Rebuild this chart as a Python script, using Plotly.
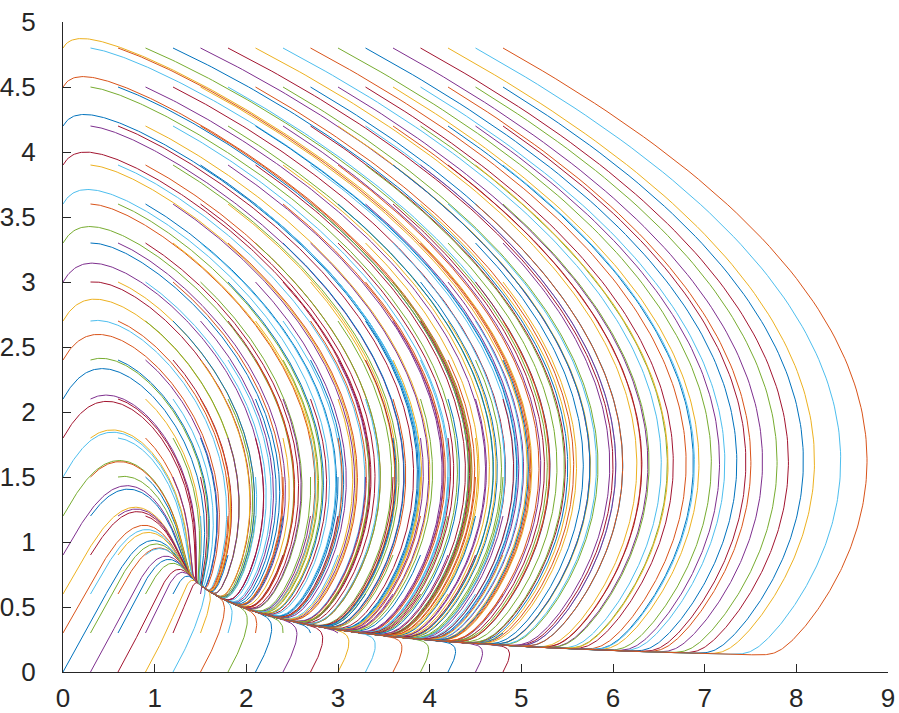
import numpy as np
import plotly.graph_objects as go

x_starts = [round(0.3 * i, 1) for i in range(17)]   # 0, 0.3, ..., 4.8
y_starts = [round(0.3 * j, 1) for j in range(17)]   # 0, 0.3, ..., 4.8

# Model parameters (eq ~ (1.52, 0.66), slow manifold y ~ 1/x)
a_par = 1.04
b_par = 1.3
d_par = 1.7
t_end = 40.0
dt = 0.002

colors = ['#0072BD', '#D95319', '#EDB120', '#7E2F8E', '#77AC30', '#4DBEEE', '#A2142F']

x_ticks = list(range(0, 10))
y_ticks = [0, 0.5, 1, 1.5, 2, 2.5, 3, 3.5, 4, 4.5, 5]
y_tick_text = ['0', '0.5', '1', '1.5', '2', '2.5', '3', '3.5', '4', '4.5', '5']


def rhs(x, y):
    dx = a_par + x * y * (y - d_par)
    dy = b_par * (1.0 - x * y)
    return dx, dy


X0, Y0 = np.meshgrid(np.array(x_starts), np.array(y_starts), indexing='ij')
x = X0.ravel().astype(float)
y = Y0.ravel().astype(float)
nsteps = int(t_end / dt)
xs = np.empty((nsteps + 1, x.size))
ys = np.empty((nsteps + 1, x.size))
xs[0] = x
ys[0] = y
for k in range(nsteps):
    k1x, k1y = rhs(x, y)
    k2x, k2y = rhs(x + 0.5 * dt * k1x, y + 0.5 * dt * k1y)
    k3x, k3y = rhs(x + 0.5 * dt * k2x, y + 0.5 * dt * k2y)
    k4x, k4y = rhs(x + dt * k3x, y + dt * k3y)
    x = x + dt / 6 * (k1x + 2 * k2x + 2 * k3x + k4x)
    y = y + dt / 6 * (k1y + 2 * k2y + 2 * k3y + k4y)
    xs[k + 1] = x
    ys[k + 1] = y


def thin(px, py, step=0.015):
    seg = np.hypot(np.diff(px), np.diff(py))
    s = np.concatenate([[0.0], np.cumsum(seg)])
    bins = np.floor(s / step)
    idx = np.concatenate([[0], np.nonzero(np.diff(bins))[0] + 1, [len(px) - 1]])
    idx = np.unique(idx)
    return px[idx], py[idx]


fig = go.Figure()
for n in range(xs.shape[1]):
    px, py = thin(xs[:, n], ys[:, n])
    fig.add_trace(go.Scatter(x=np.round(px, 4), y=np.round(py, 4), mode='lines',
                             line=dict(color=colors[n % 7], width=1),
                             hoverinfo='skip', showlegend=False))

axis_common = dict(showgrid=False, zeroline=False, showline=True, linecolor='#262626',
                   linewidth=1, ticks='inside', ticklen=8, tickcolor='#262626',
                   automargin=False, ticklabeloverflow='allow',
                   tickfont=dict(family='Liberation Sans, Arial, sans-serif', size=26, color='#262626'))
fig.update_layout(
    width=899, height=713,
    margin=dict(l=63, r=11, t=22, b=41),
    plot_bgcolor='white', paper_bgcolor='white',
    xaxis=dict(range=[0, 9], tickvals=x_ticks, ticklabelstandoff=3, **axis_common),
    yaxis=dict(range=[0, 5], tickvals=y_ticks, ticktext=y_tick_text, ticklabelstandoff=21, **axis_common),
)
fig.write_html("out.html", config={'displayModeBar': False},
               post_script="document.body.style.margin='0';")
